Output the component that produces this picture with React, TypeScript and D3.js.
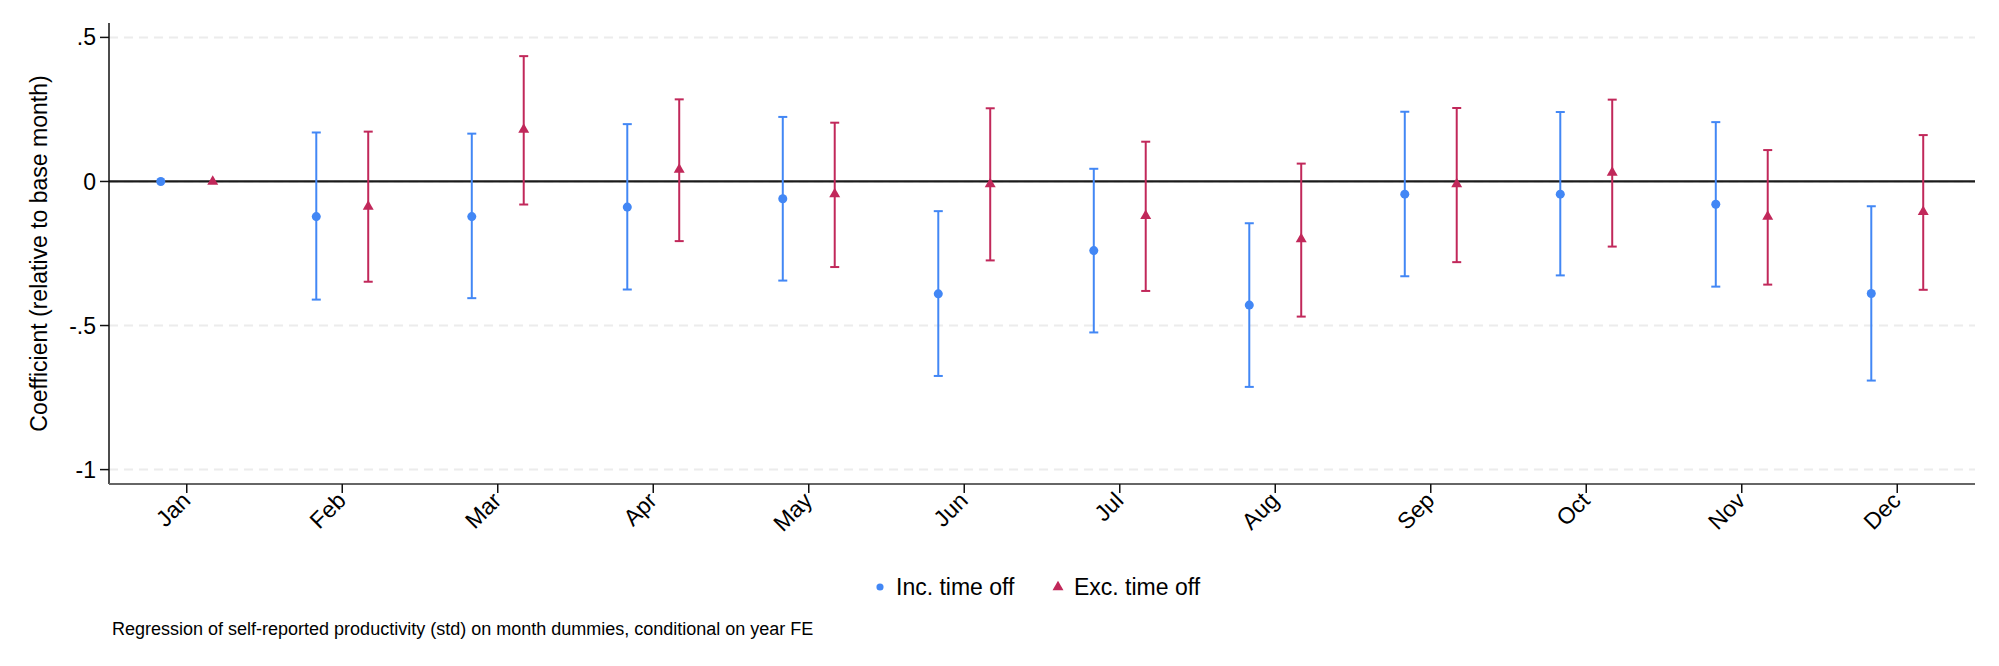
import * as React from "react"
import * as d3 from "d3"

const months = ["Jan", "Feb", "Mar", "Apr", "May", "Jun", "Jul", "Aug", "Sep", "Oct", "Nov", "Dec"]

// Inc. time off
const incCoef = [0, -0.122, -0.122, -0.089, -0.060, -0.390, -0.240, -0.429, -0.044, -0.044, -0.079, -0.389]
const incLo = [0, -0.410, -0.405, -0.375, -0.344, -0.675, -0.524, -0.713, -0.329, -0.326, -0.365, -0.691]
const incHi = [0, 0.170, 0.166, 0.199, 0.224, -0.103, 0.044, -0.145, 0.242, 0.241, 0.206, -0.086]

// Exc. time off
const excCoef = [0, -0.087, 0.180, 0.041, -0.044, -0.009, -0.119, -0.200, -0.009, 0.031, -0.122, -0.105]
const excLo = [0, -0.348, -0.080, -0.207, -0.297, -0.274, -0.380, -0.469, -0.280, -0.226, -0.358, -0.376]
const excHi = [0, 0.173, 0.435, 0.285, 0.204, 0.254, 0.138, 0.062, 0.255, 0.284, 0.109, 0.161]

const yTicks = [0.5, 0, -0.5, -1]
const yTickLabels = [".5", "0", "-.5", "-1"]

const seriesNames = ["Inc. time off", "Exc. time off"]

const BLUE = "#4287f5"
const RED = "#c1285a"
const FONT = "'Liberation Sans', Arial, Helvetica, sans-serif"

export default function App() {
    const [w, h] = [1999, 666]
    const m = { top: 23, bottom: 182, left: 109, right: 24 }
    const [x0, x1, y0, y1] = [m.left, w - m.right, m.top, h - m.bottom]

    const xScale = d3.scalePoint<string>().domain(months).range([x0, x1]).padding(0.5)
    const yScale = d3.scaleLinear().domain([-1.05, 0.55]).range([y1, y0])
    const off = xScale.step() * 0.167

    const series = [
        { name: seriesNames[0], coef: incCoef, lo: incLo, hi: incHi, color: BLUE, shift: -off, shape: d3.symbolCircle, size: 64 },
        { name: seriesNames[1], coef: excCoef, lo: excLo, hi: excHi, color: RED, shift: off, shape: d3.symbolTriangle, size: 52 },
    ]

    const grid = yTicks.map((t, i) => (
        <g key={i}>
            <line x1={x0} x2={x1} y1={yScale(t)} y2={yScale(t)} stroke="#ececec" strokeWidth={2} strokeDasharray="9 6" />
            <line x1={x0 - 9} x2={x0} y1={yScale(t)} y2={yScale(t)} stroke="#111" strokeWidth={1.5} />
            <text x={x0 - 13} y={yScale(t)} dy="0.35em" textAnchor="end" fontSize={23} fill="#000">
                {yTickLabels[i]}
            </text>
        </g>
    ))

    const xTicks = months.map((mo, i) => {
        const x = xScale(mo) ?? 0
        return (
            <g key={i}>
                <line x1={x} x2={x} y1={y1} y2={y1 + 9} stroke="#111" strokeWidth={1.5} />
                <text transform={`translate(${x + 5},${y1 + 18}) rotate(-45)`} textAnchor="end" fontSize={23} fill="#000">
                    {mo}
                </text>
            </g>
        )
    })

    const marks = series.map((s, si) => (
        <g key={si}>
            {months.map((mo, i) => {
                const x = (xScale(mo) ?? 0) + s.shift
                const sym = d3.symbol().type(s.shape).size(s.size)()
                return (
                    <g key={i}>
                        {s.lo[i] !== s.hi[i] && (
                            <g stroke={s.color} strokeWidth={2}>
                                <line x1={x} x2={x} y1={yScale(s.lo[i])} y2={yScale(s.hi[i])} />
                                <line x1={x - 4.5} x2={x + 4.5} y1={yScale(s.lo[i])} y2={yScale(s.lo[i])} />
                                <line x1={x - 4.5} x2={x + 4.5} y1={yScale(s.hi[i])} y2={yScale(s.hi[i])} />
                            </g>
                        )}
                        <path d={sym ?? ""} transform={`translate(${x},${yScale(s.coef[i])})`} fill={s.color} />
                    </g>
                )
            })}
        </g>
    ))

    const legendX = [880, 1058]
    const legend = series.map((s, i) => (
        <g key={i} transform={`translate(${legendX[i]},587)`}>
            <path d={d3.symbol().type(s.shape).size(i === 0 ? 40 : 52)() ?? ""} fill={s.color} />
            <text x={16} y={8} fontSize={23} fill="#000">{s.name}</text>
        </g>
    ))

    return (
        <div style={{ position: "absolute", left: 0, top: 0 }}>
            <svg width={w} height={h} style={{ display: "block", background: "#fff" }} fontFamily={FONT}>
                {grid}
                <line x1={x0} x2={x1} y1={yScale(0)} y2={yScale(0)} stroke="#1a1a1a" strokeWidth={2.2} />
                {marks}
                <line x1={x0} x2={x0} y1={y0} y2={y1} stroke="#111" strokeWidth={1.5} />
                <line x1={x0} x2={x1} y1={y1} y2={y1} stroke="#666" strokeWidth={2} />
                {xTicks}
                <text transform={`translate(47,${(y0 + y1) / 2}) rotate(-90)`} textAnchor="middle" fontSize={23} fill="#000">
                    Coefficient (relative to base month)
                </text>
                {legend}
                <text x={112} y={635} fontSize={18} fill="#000">
                    Regression of self-reported productivity (std) on month dummies, conditional on year FE
                </text>
            </svg>
        </div>
    )
}
